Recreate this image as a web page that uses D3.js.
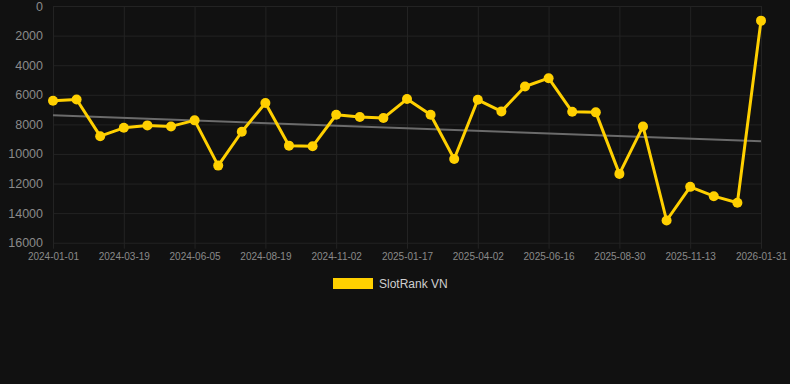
<!DOCTYPE html>
<html>
<head>
<meta charset="utf-8">
<script src="https://cdn.jsdelivr.net/npm/d3@7"></script>
<style>
  html, body { margin: 0; padding: 0; background: #111111; }
  svg { display: block; }
</style>
</head>
<body>
<svg id="chart" width="790" height="384"></svg>
<script>
// --- Datos ---
const dates = [
    "2024-01-01", "2024-01-27", "2024-02-22", "2024-03-19", "2024-04-14", "2024-05-10",
    "2024-06-05", "2024-06-30", "2024-07-25", "2024-08-19", "2024-09-13", "2024-10-08",
    "2024-11-02", "2024-11-27", "2024-12-23", "2025-01-17", "2025-02-11", "2025-03-08",
    "2025-04-02", "2025-04-27", "2025-05-22", "2025-06-16", "2025-07-11", "2025-08-05",
    "2025-08-30", "2025-09-24", "2025-10-19", "2025-11-13", "2025-12-08", "2026-01-03",
    "2026-01-31"
];
const rankValues = [
    6400, 6320, 8800, 8235, 8070, 8140,
    7730, 10790, 8500, 6560, 9440, 9485,
    7350, 7505, 7575, 6290, 7350, 10340,
    6340, 7125, 5440, 4880, 7150, 7190,
    11350, 8140, 14500, 12225, 12855, 13300,
    990
];
const yTicks = [0, 2000, 4000, 6000, 8000, 10000, 12000, 14000, 16000];
const seriesName = "SlotRank VN";

function renderRankChart(selector) {
    const svg = d3.select(selector);
    const width = 790;
    const margin = { top: 6, right: 29, bottom: 141, left: 53 };
    const innerW = width - margin.left - margin.right;
    const innerH = 384 - margin.top - margin.bottom - 0.3;

    const color = "#FFD000";
    const gridColor = "#232323";

    const x = d3.scalePoint().domain(dates).range([0, innerW]);
    const y = d3.scaleLinear().domain([0, 16000]).range([0, innerH]); // invertido: 0 arriba

    const g = svg.append("g").attr("transform", `translate(${margin.left},${margin.top})`);

    // ticks del eje x: uno de cada 3 fechas
    const xTickDates = dates.filter((d, i) => i % 3 === 0);

    // --- 1. Rejilla ---
    g.append("g")
        .selectAll("line")
        .data(yTicks)
        .enter()
        .append("line")
        .attr("x1", 0)
        .attr("x2", innerW)
        .attr("y1", d => y(d) + 0.5)
        .attr("y2", d => y(d) + 0.5)
        .style("stroke", gridColor)
        .style("stroke-width", 1);

    g.append("g")
        .selectAll("line")
        .data(xTickDates)
        .enter()
        .append("line")
        .attr("x1", d => x(d) + 0.5)
        .attr("x2", d => x(d) + 0.5)
        .attr("y1", 0)
        .attr("y2", innerH + 6)
        .style("stroke", gridColor)
        .style("stroke-width", 1);

    // --- 2. Ejes ---
    const yAxis = g.append("g")
        .call(d3.axisLeft(y).tickValues(yTicks).tickSize(0).tickPadding(10).tickFormat(d3.format("d")));
    yAxis.select(".domain").remove();
    yAxis.selectAll("text")
        .style("font-family", "Arial, 'Liberation Sans', sans-serif")
        .style("font-size", "12.5px")
        .attr("fill", "#8a8a8a");

    const xAxis = g.append("g")
        .attr("transform", `translate(0,${innerH})`)
        .call(d3.axisBottom(x).tickValues(xTickDates).tickSize(0).tickPadding(10));
    xAxis.select(".domain").remove();
    xAxis.selectAll("text")
        .style("font-family", "Arial, 'Liberation Sans', sans-serif")
        .style("font-size", "10px")
        .attr("fill", "#8a8a8a");

    // --- 3. Línea de tendencia (regresión lineal) ---
    const n = rankValues.length;
    const idx = d3.range(n);
    const meanI = d3.mean(idx);
    const meanV = d3.mean(rankValues);
    const slope = d3.sum(idx, i => (i - meanI) * (rankValues[i] - meanV)) / d3.sum(idx, i => (i - meanI) ** 2);
    const intercept = meanV - slope * meanI;

    g.append("line")
        .attr("x1", x(dates[0]))
        .attr("y1", y(intercept))
        .attr("x2", x(dates[n - 1]))
        .attr("y2", y(intercept + slope * (n - 1)))
        .style("stroke", "#6b6b6b")
        .style("stroke-width", 2);

    // --- 4. Serie ---
    const line = d3.line()
        .x((d, i) => x(dates[i]))
        .y(d => y(d));

    g.append("path")
        .datum(rankValues)
        .attr("d", line)
        .style("fill", "none")
        .style("stroke", color)
        .style("stroke-width", 3)
        .style("stroke-linejoin", "round");

    g.selectAll(".pt")
        .data(rankValues)
        .enter()
        .append("circle")
        .attr("class", "pt")
        .attr("cx", (d, i) => x(dates[i]))
        .attr("cy", d => y(d))
        .attr("r", 5)
        .style("fill", color);

    // --- 5. Leyenda ---
    const legend = svg.append("g").attr("transform", "translate(333,278)");
    legend.append("rect")
        .attr("width", 40)
        .attr("height", 11)
        .style("fill", color);
    legend.append("text")
        .attr("x", 46)
        .attr("y", 6)
        .attr("dy", "0.35em")
        .style("font-family", "Arial, 'Liberation Sans', sans-serif")
        .style("font-size", "12px")
        .attr("fill", "#cfcfcf")
        .text(seriesName);
}

renderRankChart("#chart");
</script>
</body>
</html>
